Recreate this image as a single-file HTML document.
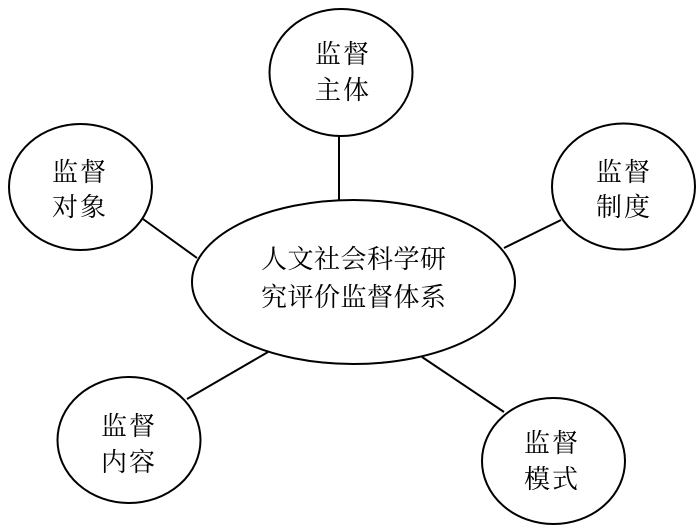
<!DOCTYPE html>
<html>
<head>
<meta charset="utf-8">
<style>
html,body{margin:0;padding:0;background:#fff;}
svg{display:block;}
text{font-family:"Liberation Serif","Noto Serif CJK SC",serif;fill:#000;font-size:26px;}
.s{letter-spacing:2px;}
.c{letter-spacing:0.5px;}
</style>
</head>
<body>
<svg width="700" height="530" viewBox="0 0 700 530" xmlns="http://www.w3.org/2000/svg">
<g fill="none" stroke="#000" stroke-width="2">
<line x1="339" y1="136" x2="339" y2="200"/>
<line x1="143" y1="219" x2="197" y2="258"/>
<line x1="561" y1="220" x2="504" y2="248"/>
<line x1="187" y1="399" x2="268" y2="352"/>
<line x1="504" y1="412" x2="422" y2="357"/>
<ellipse cx="341" cy="72.5" rx="71.5" ry="63.5"/>
<ellipse cx="80.5" cy="187" rx="71.5" ry="63"/>
<ellipse cx="623.5" cy="186.5" rx="71.5" ry="63"/>
<ellipse cx="129" cy="440" rx="71.5" ry="63"/>
<ellipse cx="553.5" cy="461" rx="71.5" ry="63"/>
<ellipse cx="353.5" cy="282" rx="161.5" ry="82"/>
</g>
<g>
<text class="s" x="315" y="63">监督</text>
<text class="s" x="315" y="99">主体</text>
<text class="s" x="52" y="181">监督</text>
<text class="s" x="52" y="216">对象</text>
<text class="s" x="596" y="181">监督</text>
<text class="s" x="596" y="216">制度</text>
<text class="s" x="101" y="435">监督</text>
<text class="s" x="101" y="471">内容</text>
<text class="s" x="524" y="452">监督</text>
<text class="s" x="524" y="488">模式</text>
<text class="c" x="261" y="268">人文社会科学研</text>
<text class="c" x="261" y="306">究评价监督体系</text>
</g>
</svg>
</body>
</html>
